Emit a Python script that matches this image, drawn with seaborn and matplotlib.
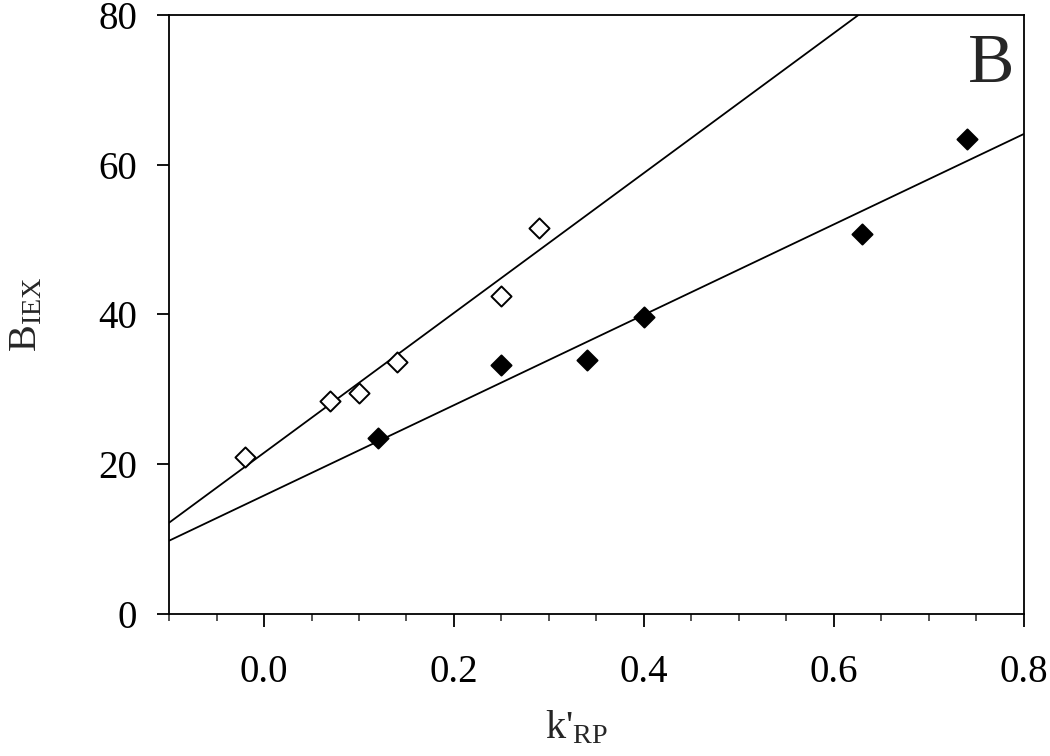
import matplotlib
matplotlib.use("Agg")
import matplotlib.pyplot as plt
from matplotlib.ticker import MultipleLocator
import seaborn as sns

# open diamonds
k_open = [-0.02, 0.07, 0.10, 0.14, 0.25, 0.29]
b_open = [21.0, 28.4, 29.5, 33.7, 42.5, 51.6]
# filled diamonds
k_fill = [0.12, 0.25, 0.34, 0.40, 0.63, 0.74]
b_fill = [23.5, 33.2, 33.9, 39.7, 50.8, 63.5]

sns.set_style("ticks")
plt.rcParams["font.family"] = ["Liberation Serif", "DejaVu Serif"]
plt.rcParams["mathtext.fontset"] = "custom"
plt.rcParams["mathtext.rm"] = "Liberation Serif"
plt.rcParams["mathtext.it"] = "Liberation Serif:italic"

fig = plt.figure(figsize=(10.5, 7.56), dpi=100)
ax = fig.add_axes([0.161, 0.188, 0.814, 0.792])
ax.set_xlim(-0.1, 0.8)
ax.set_ylim(0, 80)

sns.regplot(x=k_open, y=b_open, ax=ax, ci=None, truncate=False, marker="D",
            color="black",
            scatter_kws={"s": 105, "facecolors": "white", "edgecolors": "black",
                         "linewidths": 1.4, "alpha": 1, "zorder": 3},
            line_kws={"lw": 1.3, "zorder": 2})
sns.regplot(x=k_fill, y=b_fill, ax=ax, ci=None, truncate=False, marker="D",
            color="black",
            scatter_kws={"s": 105, "linewidths": 1.4, "alpha": 1, "zorder": 3},
            line_kws={"lw": 1.3, "zorder": 2})

ax.set_xlim(-0.1, 0.8)
ax.set_ylim(0, 80)
ax.xaxis.set_major_locator(MultipleLocator(0.2))
ax.xaxis.set_minor_locator(MultipleLocator(0.05))
ax.yaxis.set_major_locator(MultipleLocator(20))
ax.set_xticklabels([f"{v:.1f}" for v in ax.get_xticks()])

for s in ax.spines.values():
    s.set_linewidth(1.3)
    s.set_color("black")
ax.tick_params(axis="both", which="major", direction="out", length=9, width=1.3,
               labelsize=28, colors="black")
ax.tick_params(axis="x", which="major", pad=20)
ax.tick_params(axis="x", which="minor", direction="out", length=5, width=1.1)
ax.tick_params(axis="y", which="major", pad=14)

ax.set_xlabel(r"k'$_{\mathrm{RP}}$", fontsize=29)
ax.xaxis.set_label_coords(0.477, -0.16)
ax.set_ylabel(r"B$_{\mathrm{IEX}}$", fontsize=29)
ax.yaxis.set_label_coords(-0.145, 0.5)
ax.text(0.989, 0.917, "B", transform=ax.transAxes, fontsize=50,
        ha="right", va="center")

fig.savefig("out.png", dpi=100)
